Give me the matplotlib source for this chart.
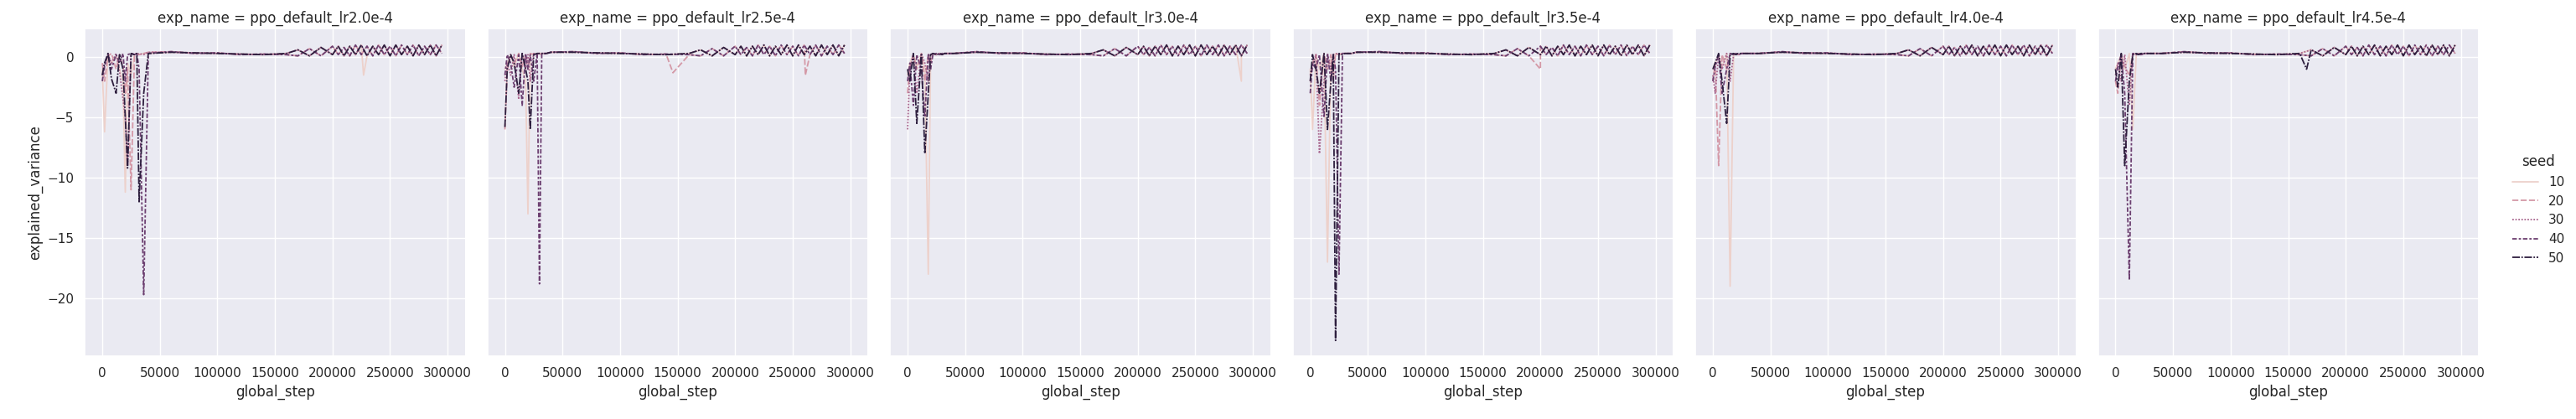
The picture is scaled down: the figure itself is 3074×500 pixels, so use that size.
import numpy as np
import pandas as pd
import seaborn as sns
import matplotlib.pyplot as plt

# experiment names and seeds
exp_names = ["ppo_default_lr2.0e-4", "ppo_default_lr2.5e-4", "ppo_default_lr3.0e-4",
             "ppo_default_lr3.5e-4", "ppo_default_lr4.0e-4", "ppo_default_lr4.5e-4"]
seeds = [10, 20, 30, 40, 50]

# early phase: steps where the runs dip
early_steps = [0, 2000, 5000, 8000, 12000, 15000, 18000, 20000, 22000, 25000, 28000, 30000, 32000, 36000, 40000]
early_vals = {
    "ppo_default_lr2.0e-4": {
        10: [-1.0, -6.2, 0.2, -0.5, 0.1, -1.0, -2.0, -11.2, -0.5, -1.5, 0.2, 0.3, 0.2, 0.3, 0.3],
        20: [-0.5, -2.0, 0.1, 0.3, -1.0, 0.2, -0.8, -3.0, -1.0, -11.0, 0.2, 0.3, 0.2, 0.3, 0.4],
        30: [-1.5, -0.5, 0.2, -0.5, 0.3, -1.2, -3.5, -5.0, -9.0, 0.2, 0.3, 0.2, 0.3, 0.2, 0.4],
        40: [-2.0, -0.8, 0.3, -1.0, 0.2, -0.5, 0.3, -2.0, 0.2, 0.3, 0.2, 0.3, -1.0, -19.7, 0.3],
        50: [-1.5, -0.5, 0.3, -1.8, -3.0, 0.2, -1.0, -5.0, -9.2, 0.3, 0.2, 0.3, -12.0, -3.0, 0.3],
    },
    "ppo_default_lr2.5e-4": {
        10: [-1.0, -0.5, 0.2, -0.8, 0.3, -1.0, -2.0, -13.0, 0.2, 0.3, 0.2, 0.3, 0.3, 0.3, 0.4],
        20: [-6.0, -1.0, 0.2, -0.5, 0.3, -0.8, 0.2, -1.0, 0.3, 0.2, 0.3, 0.3, 0.2, 0.3, 0.4],
        30: [-2.0, -0.5, -1.5, 0.2, -3.5, 0.3, -1.0, 0.2, -2.0, 0.3, 0.2, 0.3, 0.3, 0.3, 0.4],
        40: [-1.5, 0.2, -0.5, -2.5, 0.2, -4.0, 0.3, -1.0, 0.2, -2.0, 0.3, -18.8, 0.3, 0.3, 0.4],
        50: [-5.8, -1.0, 0.2, -0.5, -3.0, 0.3, -1.0, -2.0, -6.0, 0.2, 0.3, 0.3, 0.3, 0.3, 0.4],
    },
    "ppo_default_lr3.0e-4": {
        10: [-1.5, -0.5, 0.2, -0.8, 0.2, -1.0, -18.0, 0.2, 0.3, 0.2, 0.3, 0.2, 0.3, 0.3, 0.3],
        20: [-3.0, -0.8, 0.2, -1.0, 0.3, -2.0, 0.2, -0.5, 0.3, 0.2, 0.3, 0.2, 0.3, 0.3, 0.3],
        30: [-6.0, -1.0, 0.2, -3.0, 0.3, -0.5, -2.0, 0.2, 0.3, 0.2, 0.3, 0.2, 0.3, 0.3, 0.3],
        40: [-2.0, -0.5, -4.0, 0.2, -1.0, -5.0, 0.3, -1.0, 0.2, 0.3, 0.2, 0.3, 0.3, 0.3, 0.3],
        50: [-1.0, -2.0, 0.3, -5.5, 0.2, -8.0, -3.0, 0.2, 0.3, 0.2, 0.3, 0.2, 0.3, 0.3, 0.3],
    },
    "ppo_default_lr3.5e-4": {
        10: [-1.0, -6.0, 0.2, -1.0, 0.3, -17.0, 0.2, -1.0, 0.3, 0.2, 0.3, 0.3, 0.3, 0.3, 0.4],
        20: [-2.0, -0.5, 0.2, -4.0, 0.3, -1.0, 0.2, -2.0, 0.3, 0.2, 0.3, 0.3, 0.3, 0.3, 0.4],
        30: [-1.5, -0.8, 0.2, -8.0, -2.0, 0.3, -1.0, 0.2, 0.3, 0.2, 0.3, 0.3, 0.3, 0.3, 0.4],
        40: [-3.0, -0.5, -1.0, 0.2, -5.0, 0.3, -2.0, 0.2, -1.0, -18.0, 0.3, 0.3, 0.3, 0.3, 0.4],
        50: [-2.0, 0.2, -1.0, -3.0, 0.3, -6.0, -2.0, 0.2, -23.5, 0.3, 0.2, 0.3, 0.3, 0.3, 0.4],
    },
    "ppo_default_lr4.0e-4": {
        10: [-1.0, -0.5, 0.2, -0.8, 0.3, -19.0, 0.2, 0.3, 0.2, 0.3, 0.3, 0.3, 0.3, 0.3, 0.3],
        20: [-2.0, -0.5, -9.0, 0.2, -1.0, 0.3, 0.2, 0.3, 0.2, 0.3, 0.3, 0.3, 0.3, 0.3, 0.3],
        30: [-1.5, -3.0, 0.2, -1.0, 0.3, -2.0, 0.2, 0.3, 0.2, 0.3, 0.3, 0.3, 0.3, 0.3, 0.3],
        40: [-2.0, -0.8, 0.2, -3.0, -1.0, 0.3, 0.2, 0.3, 0.2, 0.3, 0.3, 0.3, 0.3, 0.3, 0.3],
        50: [-1.0, -0.5, 0.3, -2.0, -5.5, 0.2, 0.3, 0.2, 0.3, 0.3, 0.3, 0.3, 0.3, 0.3, 0.3],
    },
    "ppo_default_lr4.5e-4": {
        10: [-1.0, -0.5, 0.2, -1.0, 0.3, -6.0, 0.2, 0.3, 0.2, 0.3, 0.3, 0.3, 0.3, 0.3, 0.3],
        20: [-2.0, -3.0, 0.2, -0.8, -1.5, 0.3, 0.2, 0.3, 0.2, 0.3, 0.3, 0.3, 0.3, 0.3, 0.3],
        30: [-1.5, -0.5, -2.0, 0.2, -4.0, 0.3, 0.2, 0.3, 0.2, 0.3, 0.3, 0.3, 0.3, 0.3, 0.3],
        40: [-2.0, -0.8, 0.2, -3.0, -18.5, 0.3, 0.2, 0.3, 0.2, 0.3, 0.3, 0.3, 0.3, 0.3, 0.3],
        50: [-1.0, -2.5, 0.3, -9.0, -2.0, 0.2, 0.3, 0.2, 0.3, 0.3, 0.3, 0.3, 0.3, 0.3, 0.3],
    },
}

# later phase: slow plateau then noisy band between ~0 and ~1
late_steps = [60000, 80000, 100000, 120000, 140000, 160000, 170000, 180000, 190000, 200000,
              205000, 210000, 215000, 220000, 225000, 230000, 235000, 240000, 245000, 250000,
              255000, 260000, 265000, 270000, 275000, 280000, 285000, 290000, 295000]
late_a = [0.4, 0.35, 0.3, 0.25, 0.2, 0.3, 0.6, 0.1, 0.8, 0.2, 0.9, 0.1, 0.9, 0.2, 1.0, 0.1,
          0.9, 0.2, 1.0, 0.1, 1.0, 0.2, 0.9, 0.1, 1.0, 0.2, 1.0, 0.1, 1.0]
late_b = [0.45, 0.3, 0.35, 0.2, 0.25, 0.2, 0.1, 0.7, 0.1, 0.9, 0.2, 0.8, 0.1, 1.0, 0.2, 0.9,
          0.1, 1.0, 0.2, 0.9, 0.1, 1.0, 0.2, 1.0, 0.1, 0.9, 0.2, 1.0, 0.3]

# isolated late spikes (exp, seed, step, value)
spikes = [("ppo_default_lr2.0e-4", 10, 227000, -1.5),
          ("ppo_default_lr2.5e-4", 20, 146000, -1.3),
          ("ppo_default_lr2.5e-4", 20, 261000, -1.5),
          ("ppo_default_lr3.0e-4", 10, 290000, -2.0),
          ("ppo_default_lr3.5e-4", 20, 200000, -1.0),
          ("ppo_default_lr4.5e-4", 50, 166000, -1.0)]

rows = []
for e in exp_names:
    for i, s in enumerate(seeds):
        late = late_a if i % 2 == 0 else late_b
        pts = list(zip(early_steps, early_vals[e][s])) + list(zip(late_steps, late))
        for se, ss, st, v in spikes:
            if se == e and ss == s:
                pts.append((st, v))
        pts.sort()
        for st, v in pts:
            rows.append({"exp_name": e, "seed": s, "global_step": st, "explained_variance": v})
df = pd.DataFrame(rows)

sns.set_theme()
g = sns.relplot(data=df, x="global_step", y="explained_variance", col="exp_name",
                hue="seed", style="seed", kind="line", height=5, aspect=0.98,
                linewidth=1.3, estimator=None)
g.set(ylim=(-24.8, 2.3), xlim=(-15000, 315000))
g.fig.set_size_inches(30.74, 5)
g.fig.subplots_adjust(left=0.033, right=0.962, bottom=0.15, top=0.93, wspace=0.06)
g.fig.savefig("out.png", dpi=100)
